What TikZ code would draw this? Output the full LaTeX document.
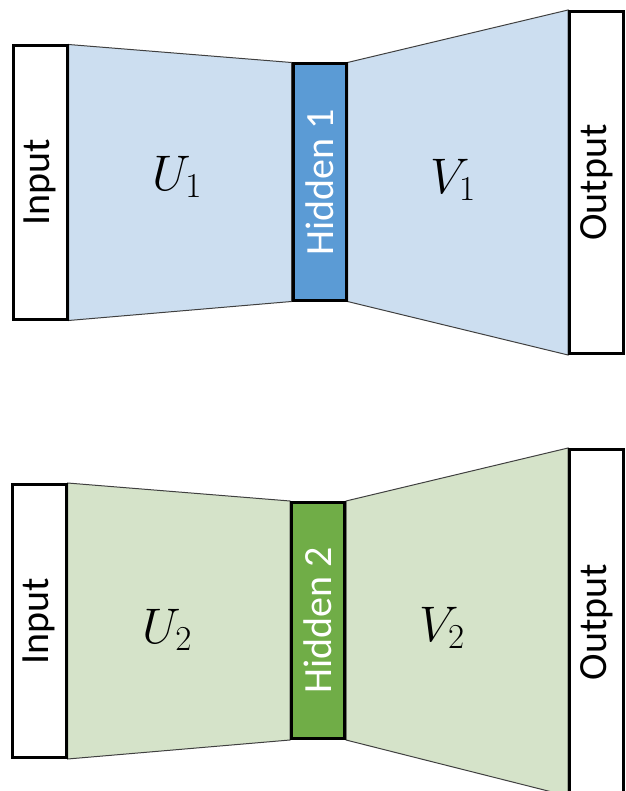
\documentclass[tikz,border=0pt]{standalone}
\usepackage{fix-cm}
\usepackage{fontspec}
\setmainfont{Carlito}
\usepackage{graphicx}
\usetikzlibrary{backgrounds}
\definecolor{paleblue}{RGB}{204,222,240}
\definecolor{hidblue}{RGB}{91,155,213}
\definecolor{palegreen}{RGB}{213,227,201}
\definecolor{hidgreen}{RGB}{112,173,71}

\begin{document}
\begin{tikzpicture}[
  x=1pt, y=-1pt,
  font=\fontsize{40}{48}\selectfont,
  io/.style={draw, line width=3pt, fill=white, minimum width=54pt, inner sep=0pt},
  hid/.style={draw, line width=3pt, text=white, minimum width=53pt, minimum height=236pt, inner sep=0pt},
  wing/.style={draw=black!75, line width=1pt},
  lab/.style={font=\fontsize{50}{60}\selectfont},
]
\clip (0,0) rectangle (625,791);
% first network
\node[io, minimum height=273pt] (in1) at (40,182.5) {\rotatebox{90}{Input}};
\node[hid, fill=hidblue] (hid1) at (319.5,182) {\rotatebox{90}{Hidden 1}};
\node[io, minimum height=342pt] (out1) at (596.5,182.5) {\rotatebox{90}{Output}};
\begin{scope}[on background layer]
\filldraw[wing, fill=paleblue] (in1.north east) -- (hid1.north west) -- (hid1.south west) -- (in1.south east) -- cycle;
\filldraw[wing, fill=paleblue] (hid1.north east) -- (out1.north west) -- (out1.south west) -- (hid1.south east) -- cycle;
\end{scope}
\node[lab] (u1) at (177,177) {$U_1$};
\node[lab] (v1) at (453,180) {$V_1$};
% second network
\node[io, minimum height=273pt] (in2) at (39,621) {\rotatebox{90}{Input}};
\node[hid, fill=hidgreen] (hid2) at (318,620.5) {\rotatebox{90}{Hidden 2}};
\node[io, minimum height=345pt] (out2) at (596.5,622) {\rotatebox{90}{Output}};
\begin{scope}[on background layer]
\filldraw[wing, fill=palegreen] (in2.north east) -- (hid2.north west) -- (hid2.south west) -- (in2.south east) -- cycle;
\filldraw[wing, fill=palegreen] (hid2.north east) -- (out2.north west) -- (out2.south west) -- (hid2.south east) -- cycle;
\end{scope}
\node[lab] (u2) at (167,630) {$U_2$};
\node[lab] (v2) at (442,628) {$V_2$};
\end{tikzpicture}
\end{document}
